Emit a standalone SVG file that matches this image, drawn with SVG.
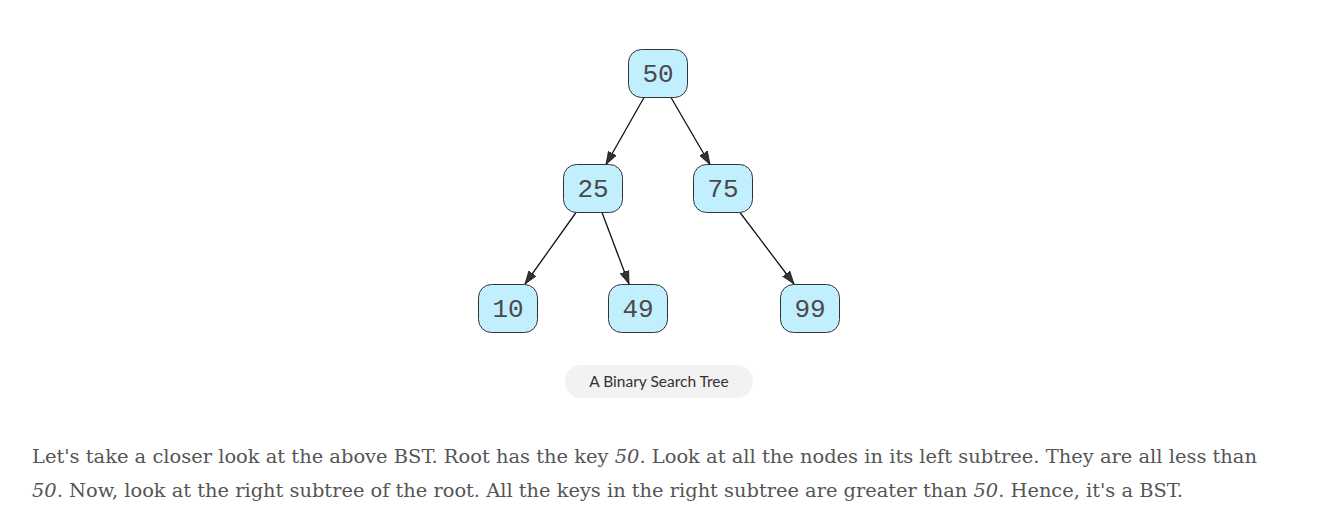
<svg xmlns="http://www.w3.org/2000/svg" width="1328" height="524" viewBox="0 0 1328 524">
<style>
.node rect{fill:#c2effd;stroke:#333;stroke-width:1}
.node text{font-family:"Liberation Mono","DejaVu Sans Mono",monospace;font-size:26px;fill:#4a4a4a;text-anchor:middle}
.edge{stroke:#111;stroke-width:1.3;fill:none;marker-end:url(#arr)}
.cap{font-family:Lato,"Open Sans",sans-serif;font-size:15.5px;fill:#333;text-anchor:middle}
.para{font-family:"DejaVu Serif","Liberation Serif",serif;font-size:19px;fill:#555}
</style>
<defs>
<marker id="arr" viewBox="0 0 10 10" refX="10" refY="5" markerWidth="13" markerHeight="10" markerUnits="userSpaceOnUse" orient="auto" preserveAspectRatio="none">
<path d="M0,0.5 L10,5 L0,9.5 Z" fill="#333" stroke="#111" stroke-width="0.6"/>
</marker>
</defs>
<rect width="1328" height="524" fill="#fff"/>
<g id="connectors">
<line class="edge" x1="644" y1="97.5" x2="606" y2="164.5"/>
<line class="edge" x1="671" y1="97.5" x2="710" y2="164.5"/>
<line class="edge" x1="576" y1="212.5" x2="525" y2="284"/>
<line class="edge" x1="602" y1="212.5" x2="629" y2="284"/>
<line class="edge" x1="740" y1="212.5" x2="794" y2="284"/>
</g>
<g id="n50" class="node"><rect x="628.5" y="49.5" width="59" height="48" rx="13"/><text x="658" y="82">50</text></g>
<g id="n25" class="node"><rect x="563.5" y="164.5" width="59" height="48" rx="13"/><text x="593" y="197">25</text></g>
<g id="n75" class="node"><rect x="693.5" y="164.5" width="59" height="48" rx="13"/><text x="723" y="197">75</text></g>
<g id="n10" class="node"><rect x="478.5" y="284.5" width="59" height="48" rx="13"/><text x="508" y="317">10</text></g>
<g id="n49" class="node"><rect x="608.5" y="284.5" width="59" height="48" rx="13"/><text x="638" y="317">49</text></g>
<g id="n99" class="node"><rect x="780.5" y="284.5" width="59" height="48" rx="13"/><text x="810" y="317">99</text></g>
<g id="caption">
<rect x="565" y="365" width="188" height="33" rx="16.5" fill="#f2f2f2"/>
<text class="cap" x="659" y="387">A Binary Search Tree</text>
</g>
<g id="paragraph">
<text class="para" x="32" y="463" textLength="1225" lengthAdjust="spacingAndGlyphs">Let's take a closer look at the above BST. Root has the key <tspan font-style="italic">50</tspan>. Look at all the nodes in its left subtree. They are all less than</text>
<text class="para" x="32" y="497" textLength="1151" lengthAdjust="spacingAndGlyphs"><tspan font-style="italic">50</tspan>. Now, look at the right subtree of the root. All the keys in the right subtree are greater than <tspan font-style="italic">50</tspan>. Hence, it's a BST.</text>
</g>
</svg>
